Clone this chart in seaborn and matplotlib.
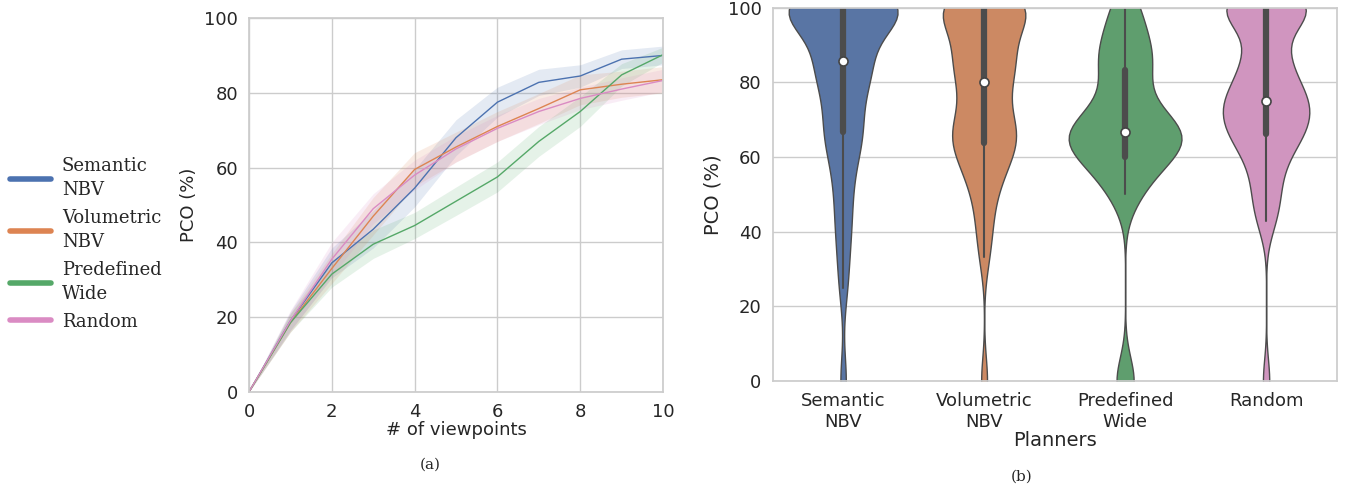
import numpy as np
import pandas as pd
import matplotlib.pyplot as plt
import seaborn as sns

planners = ['Semantic\nNBV', 'Volumetric\nNBV', 'Predefined\nWide', 'Random']

# (a) mean PCO per number of viewpoints, with CI half-widths
viewpoints = [0, 1, 2, 3, 4, 5, 6, 7, 8, 9, 10]
semantic_mean = [0, 19.0, 34.5, 43.5, 54.5, 68.0, 77.5, 82.8, 84.5, 89.0, 90.0]
volumetric_mean = [0, 18.5, 33.0, 47.0, 59.5, 65.5, 71.0, 75.8, 80.8, 82.3, 83.5]
predefined_mean = [0, 18.5, 31.5, 39.5, 44.5, 51.0, 57.5, 67.0, 75.0, 84.8, 90.2]
random_mean = [0, 19.0, 35.5, 49.0, 58.0, 65.0, 70.5, 75.0, 78.5, 81.0, 83.3]
semantic_ci = [0, 2.5, 4.0, 5.0, 5.0, 4.8, 4.0, 3.5, 3.0, 2.5, 2.5]
volumetric_ci = [0, 2.5, 4.0, 5.0, 4.5, 4.0, 4.0, 4.0, 4.0, 3.5, 3.5]
predefined_ci = [0, 2.5, 3.5, 3.8, 3.5, 3.8, 4.0, 4.0, 4.0, 3.0, 2.0]
random_ci = [0, 2.8, 4.5, 4.0, 4.0, 3.5, 3.5, 3.5, 3.0, 3.0, 3.0]

# (b) per-run PCO samples for each planner
semantic_pco = [0, 25, 33.3, 40, 44.4, 50, 54.5, 58.3, 62.5, 64.3, 66.7, 66.7,
                69.2, 72.7, 75, 77.8, 80, 81.8, 83.3, 84.6, 85.7, 85.7, 85.7, 87.5,
                92.3, 95] + [100] * 18
volumetric_pco = [0, 33.3, 40, 44.4, 50, 52.6, 55.6, 57.1, 60, 60, 62.5,
                  64.3, 65, 66.7, 66.7, 66.7, 68.8, 70, 72.7, 75, 77.8, 80,
                  80, 81.8, 83.3, 85.7, 85.7, 87.5, 88.9, 90, 90.9, 92.3] + [100] * 12
predefined_pco = [0, 0, 0, 50, 50, 52, 55, 57.1, 58.3, 60, 60, 60,
                  61.5, 62.5, 63.6, 64.3, 65] + [66.7] * 9 + \
                 [69.2, 71.4, 72.7, 75, 77.8, 80, 83.3,
                  83.3, 85.7, 86.7, 87.5, 88.9, 90, 92.3, 95, 100, 100, 100]
random_pco = [0, 42.9, 44.4, 50, 50, 55.6, 57.1, 60, 62.5, 64.3,
              65, 66.7, 66.7, 66.7, 68.8, 70, 71.4, 72.7,
              73.3, 74, 75, 75, 75,
              77.8, 78.6, 80, 81.8, 83.3, 85.7, 87.5, 88.9, 90] + [100] * 12

sns.set_theme(style='whitegrid', palette='deep')
deep = sns.color_palette('deep')
colors = [deep[0], deep[1], deep[2], deep[6]]

fig = plt.figure(figsize=(13.46, 4.88), dpi=100)
ax1 = fig.add_axes([0.185, 0.197, 0.3076, 0.766])
ax2 = fig.add_axes([0.574, 0.219, 0.419, 0.765])

means = [semantic_mean, volumetric_mean, predefined_mean, random_mean]
cis = [semantic_ci, volumetric_ci, predefined_ci, random_ci]
lines_df = pd.DataFrame({
    'viewpoints': viewpoints * 4,
    'pco': sum(means, []),
    'planner': sum([[p.replace('\n', ' ')] * len(viewpoints) for p in planners], []),
})
sns.lineplot(data=lines_df, x='viewpoints', y='pco', hue='planner', palette=colors,
             linewidth=1.0, errorbar=None, legend=False, ax=ax1)
for m, c, col in zip(means, cis, colors):
    m, c = np.array(m), np.array(c)
    ax1.fill_between(viewpoints, m - c, m + c, color=col, alpha=0.15, linewidth=0)

ax1.set_xlim(0, 10)
ax1.set_ylim(0, 100)
ax1.set_xticks([0, 2, 4, 6, 8, 10])
ax1.set_yticks([0, 20, 40, 60, 80, 100])
ax1.tick_params(labelsize=13, pad=2)
ax1.set_xlabel('# of viewpoints', fontsize=13, labelpad=0)
ax1.set_ylabel('PCO (%)', fontsize=13)

handles = [plt.Line2D([], [], color=c, lw=4, solid_capstyle='round') for c in colors]
leg = fig.legend(handles, planners, loc='center left', bbox_to_anchor=(-0.005, 0.5),
                 frameon=False, prop={'family': 'DejaVu Serif', 'size': 13},
                 handlelength=2.3, handletextpad=0.6, labelspacing=0.55)
for t in leg.get_texts():
    t.set_linespacing(1.42)

violin_df = pd.DataFrame({
    'planner': sum([[p] * len(v) for p, v in zip(planners, [semantic_pco, volumetric_pco,
                                                            predefined_pco, random_pco])], []),
    'pco': semantic_pco + volumetric_pco + predefined_pco + random_pco,
})
sns.violinplot(data=violin_df, x='planner', y='pco', hue='planner', palette=colors,
               legend=False, linewidth=1.0, bw_adjust=0.6, common_norm=True,
               inner_kws=dict(box_width=4.5, whis_width=1.5, marker='o'), ax=ax2)
for ln in ax2.lines:
    if ln.get_marker() == 'o':
        ln.set_markersize(6.5)
        ln.set_markerfacecolor('white')
        ln.set_markeredgecolor('#444444')
        ln.set_markeredgewidth(1.2)
ax2.set_ylim(0, 100)
ax2.set_yticks([0, 20, 40, 60, 80, 100])
ax2.tick_params(labelsize=13, pad=2)
ax2.set_xlabel('Planners', fontsize=14, labelpad=0)
ax2.set_ylabel('PCO (%)', fontsize=14)

fig.text(0.32, 0.04, '(a)', ha='center', family='DejaVu Serif', fontsize=11)
fig.text(0.759, 0.015, '(b)', ha='center', family='DejaVu Serif', fontsize=11)

fig.savefig('out.png', dpi=100)
